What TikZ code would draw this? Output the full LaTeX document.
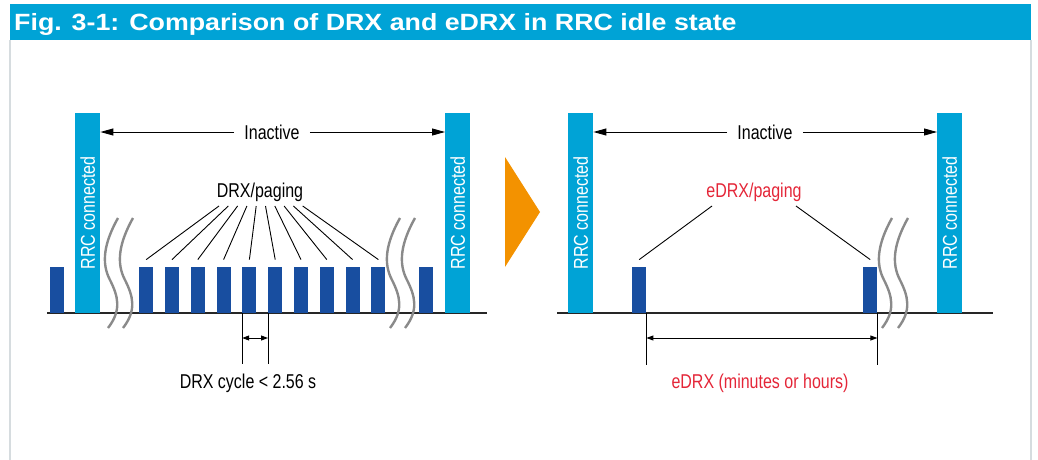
\documentclass[tikz,border=0pt]{standalone}
\usepackage{fontspec}
\setmainfont{Liberation Sans}
\newfontfamily\narrowfont[FakeStretch=0.8]{Liberation Sans}
\newfontfamily\titlefont[FakeStretch=1.14]{Liberation Sans Bold}
\usepackage{tikz}
\usetikzlibrary{arrows.meta,positioning}
\definecolor{rrcblue}{RGB}{0,163,214}
\definecolor{drxblue}{RGB}{24,78,160}
\definecolor{edrxred}{RGB}{228,38,56}
\definecolor{arroworange}{RGB}{243,146,0}
\definecolor{framegrey}{RGB}{214,220,223}
\definecolor{wavegrey}{RGB}{138,138,138}
\tikzset{
  rrcbar/.style={ fill=rrcblue, inner sep=0pt, minimum width=25pt, minimum height=200pt, anchor=south west }
}
\tikzset{
  drxbar/.style={ fill=drxblue, inner sep=0pt, minimum width=14pt, minimum height=46pt, anchor=south west }
}
\tikzset{
  lbl/.style={ font=\narrowfont\fontsize{20}{20}\selectfont, inner sep=0pt },
  rrclbl/.style={ rotate=90, white, font=\narrowfont\fontsize{20}{20}\selectfont, inner sep=0pt }
}
\tikzset{
  span/.style={ line width=0.9pt, -{Triangle[length=13pt,width=7pt]} },
  cycle/.style={ line width=0.9pt, {Triangle[length=7pt,width=5pt]}-{Triangle[length=7pt,width=5pt]} },
  axis/.style={ line width=1.6pt, black!85 }
}
\tikzset{
  wave/.pic={
    \draw[wavegrey, line width=2.4pt] (0,0) .. controls (-14,25) and (-17,45) .. (-8,62)
      .. controls (0,78) and (4,92) .. (-10,110);
  }
}

\begin{document}
\begin{tikzpicture}[x=1pt, y=-1pt]
  \useasboundingbox (0,0) rectangle (1038,460);

  % frame and title
  \fill[rrcblue] (10,4) rectangle (1031,40);
  \draw[framegrey, line width=2pt] (10,40) -- (10,460);
  \draw[framegrey, line width=2pt] (1031,40) -- (1031,460);
  \node[anchor=base west, inner sep=0pt, white, font=\titlefont\fontsize{23.5}{23.5}\selectfont] (title) at (14,31)
    {Fig. 3-1: Comparison of DRX and eDRX in RRC idle state};

  % DRX side
  \coordinate (axL1) at (47,313);
  \coordinate (axL2) at (487,313);
  \draw[axis] (axL1) -- (axL2);

  \node[drxbar] (b0) at (50,313) {};
  \node[rrcbar, label={[rrclbl]center:RRC connected}] (rrcL1) at (75,313) {};
  \foreach \n in {1,...,10}
    \node[drxbar] (b\n) at ({139+25.8*(\n-1)},313) {};
  \node[drxbar] (b11) at (419,313) {};
  \node[rrcbar, label={[rrclbl]center:RRC connected}] (rrcL2) at (445,313) {};

  \pic at (118,218) {wave};
  \pic at (133,218) {wave};
  \pic at (400,218) {wave};
  \pic at (415,218) {wave};

  \node[lbl, inner xsep=10pt] (inL) at (272,132) {Inactive};
  \draw[span] (inL.west) -- (inL.west -| rrcL1.east);
  \draw[span] (inL.east) -- (inL.east -| rrcL2.west);

  \node[lbl, anchor=base] (drx) at (260,197) {DRX/paging};
  \foreach \n in {1,...,10} {
    \coordinate (f\n) at ({219+9.3*(\n-1)},206);
    \draw[line width=0.9pt] (f\n) -- ([yshift=7pt]b\n.north);
  }

  \coordinate (c1) at ([yshift=-51pt]b5.south west);
  \coordinate (c2) at ([yshift=-51pt]b6.south west);
  \draw[line width=0.9pt] (b5.south west) -- (c1);
  \draw[line width=0.9pt] (b6.south west) -- (c2);
  \draw[cycle] ([yshift=-25pt]b5.south west) -- ([yshift=-25pt]b6.south west);
  \node[lbl, anchor=base] (cyc) at (248,388) {DRX cycle < 2.56 s};

  % arrow between
  \fill[arroworange] (505,157) -- (540,212) -- (505,267) -- cycle;

  % eDRX side
  \coordinate (axR1) at (557,313);
  \coordinate (axR2) at (993,313);
  \draw[axis] (axR1) -- (axR2);

  \node[rrcbar, label={[rrclbl]center:RRC connected}] (rrcR1) at (568,313) {};
  \node[drxbar] (e1) at (632,313) {};
  \node[drxbar] (e2) at (863,313) {};
  \node[rrcbar, label={[rrclbl]center:RRC connected}] (rrcR2) at (937,313) {};

  \pic at (892,218) {wave};
  \pic at (908,218) {wave};

  \node[lbl, inner xsep=10pt] (inR) at (765,132) {Inactive};
  \draw[span] (inR.west) -- (inR.west -| rrcR1.east);
  \draw[span] (inR.east) -- (inR.east -| rrcR2.west);

  \node[lbl, anchor=base, edrxred] (edrx) at (754,197) {eDRX/paging};
  \coordinate (g1) at (712,206);
  \coordinate (g2) at (796,206);
  \draw[line width=0.9pt] (g1) -- ([yshift=7pt]e1.north);
  \draw[line width=0.9pt] (g2) -- ([yshift=7pt]e2.north);

  \coordinate (d1) at ([yshift=-52pt]e1.south east);
  \coordinate (d2) at ([yshift=-52pt]e2.south east);
  \draw[line width=0.9pt] (e1.south east) -- (d1);
  \draw[line width=0.9pt] (e2.south east) -- (d2);
  \draw[cycle] ([yshift=-25pt]e1.south east) -- ([yshift=-25pt]e2.south east);
  \node[lbl, anchor=base, edrxred] (ecyc) at (760,388) {eDRX (minutes or hours)};
\end{tikzpicture}
\end{document}
